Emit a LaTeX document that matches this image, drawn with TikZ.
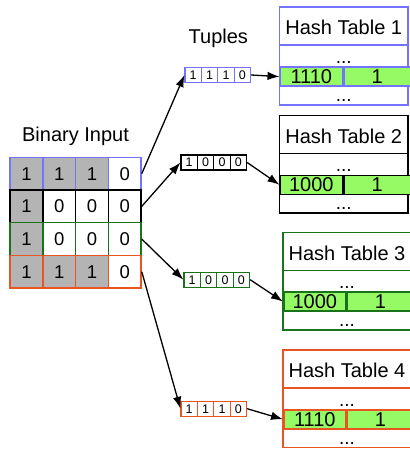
\documentclass[tikz,border=0pt]{standalone}
\usepackage{fontspec}
\setmainfont{Liberation Sans}
\usetikzlibrary{arrows.meta}
\definecolor{cblue}{RGB}{115,115,255}
\definecolor{cgreen}{RGB}{25,115,25}
\definecolor{corange}{RGB}{232,85,35}
\definecolor{cfill}{RGB}{150,250,100}
\definecolor{cgray}{RGB}{180,180,180}
\tikzset{
  cell/.style={draw, line width=1.5pt, minimum width=32.75pt, minimum height=32.7pt, inner sep=0pt, font=\fontsize{18.5}{20}\selectfont},
  tcell/.style={draw, line width=1.1pt, fill=white, minimum width=16.4pt, minimum height=15pt, inner sep=0pt, font=\fontsize{12.5}{13}\selectfont},
  arr/.style={line width=1.3pt, -{Latex[length=12pt,width=8.5pt]}},
  lbl/.style={font=\fontsize{20}{22}\selectfont, anchor=base, inner sep=0pt},
  dots/.style={font=\fontsize{19}{20}\selectfont, anchor=base, inner sep=0pt},
  tbl/.style={line width=1.6pt},
  keycell/.style={draw, line width=1.6pt, fill=cfill, minimum height=19pt, inner sep=0pt, anchor=north west, font=\fontsize{20}{22}\selectfont},
}
\newcommand\tup[8]{%
  \node[tcell,draw=#2] (#1a) at (#3+8.2,#4) {#5};
  \node[tcell,draw=#2] (#1b) at (#3+24.6,#4) {#6};
  \node[tcell,draw=#2] (#1c) at (#3+41,#4) {#7};
  \node[tcell,draw=#2] (#1d) at (#3+57.4,#4) {#8};
}
% #1 name, #2 color, #3 left, #4 top, #5 right, #6 key, #7 title
\newcommand\htab[7]{%
  \draw[tbl,draw=#2] (#3,#4) rectangle (#5,#4+97.5);
  \draw[tbl,draw=#2] (#3,#4+38) -- (#5,#4+38);
  \node[lbl] (#1t) at ({(#3+#5)/2},#4+27.7) {#7};
  \node[dots] (#1d1) at ({(#3+#5)/2},#4+56) {...};
  \node[dots] (#1d2) at ({(#3+#5)/2},#4+94.4) {...};
  \node[keycell,draw=#2,minimum width=62pt] (#1k) at (#3,#4+59) {#6};
  \node[keycell,draw=#2,minimum width={(#5-#3-62)*1pt}] (#1v) at (#1k.north east) {1};
}
\begin{document}
\begin{tikzpicture}[x=1pt,y=-1pt]
\useasboundingbox (0,0) rectangle (409,449);

\node[lbl] (bin) at (75.5,141.7) {Binary Input};
\node[lbl] (tups) at (218.3,44) {Tuples};

\foreach \i/\c/\a/\b/\e/\fa/\fb/\fe in {
  1/cblue/1/1/1/cgray/cgray/cgray,
  2/black/1/0/0/cgray/white/white,
  3/cgreen/1/0/0/cgray/white/white,
  4/corange/1/1/1/cgray/cgray/cgray}{
  \pgfmathsetmacro\yy{157.3+16.35+32.7*(\i-1)}
  \node[cell,draw=\c,fill=\fa] (c\i1) at (26.4,\yy) {\a};
  \node[cell,draw=\c,fill=\fb] (c\i2) at (59.15,\yy) {\b};
  \node[cell,draw=\c,fill=\fe] (c\i3) at (91.9,\yy) {\e};
  \node[cell,draw=\c,fill=white] (c\i4) at (124.65,\yy) {0};
}

\tup{t1}{cblue}{185}{75}{1}{1}{1}{0}
\tup{t2}{black}{181}{162.5}{1}{0}{0}{0}
\tup{t3}{cgreen}{184}{279.7}{1}{0}{0}{0}
\tup{t4}{corange}{181}{408.7}{1}{1}{1}{0}

\htab{h1}{cblue}{279.5}{7.3}{408}{1110}{Hash Table 1}
\htab{h2}{black}{279.5}{115.5}{408}{1000}{Hash Table 2}
\htab{h3}{cgreen}{283}{232.3}{411}{1000}{Hash Table 3}
\htab{h4}{corange}{283}{350}{411}{1110}{Hash Table 4}

\draw[arr] (c14.east) -- (t1a.west);
\draw[arr] (c24.east) -- (t2a.west);
\draw[arr] (c34.east) -- (t3a.west);
\draw[arr] (c44.east) -- (t4a.west);

\draw[arr] (t1d.east) -- (h1k.west);
\draw[arr] (t2d.east) -- (h2k.west);
\draw[arr] (t3d.east) -- (h3k.west);
\draw[arr] (t4d.east) -- (h4k.west);
\end{tikzpicture}
\end{document}
